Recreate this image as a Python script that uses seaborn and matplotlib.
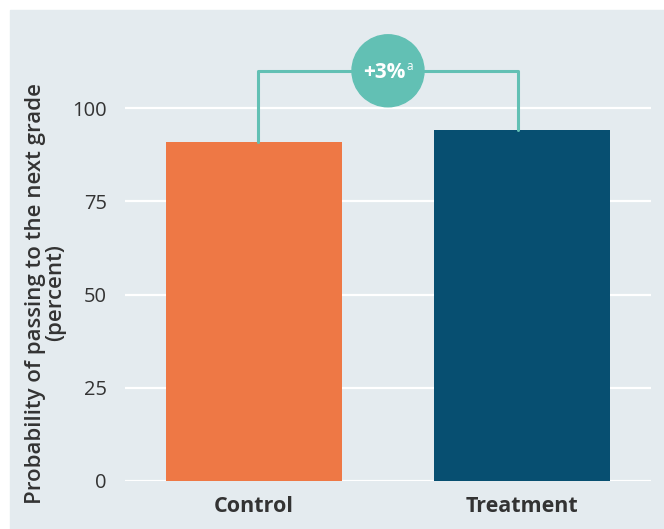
import matplotlib
matplotlib.use("Agg")
import matplotlib.pyplot as plt
from matplotlib.patches import Rectangle, Circle
import seaborn as sns

# Data
groups = ["Control", "Treatment"]
pass_rates = [91, 94]
bar_colors = ["#ee7845", "#074f71"]
y_ticks = [0, 25, 50, 75, 100]
diff_label = "+3%"
diff_note = "a"
y_label = "Probability of passing to the next grade\n(percent)"

W, H = 664, 529
bg = "#e4ebef"
teal = "#62c0b4"
text_col = "#333333"

sns.set_theme(style="white")
plt.rcParams["font.family"] = ["Open Sans", "DejaVu Sans"]

fig = plt.figure(figsize=(W / 100, H / 100), dpi=100)
fig.patches.append(Rectangle((10 / W, 0), 1 - 10 / W, 1 - 10 / H,
                             transform=fig.transFigure, color=bg, zorder=-10))

ax = fig.add_axes([125 / W, (H - 481) / H, (651 - 125) / W, (481 - 10) / H])
ax.set_facecolor("none")

sns.barplot(x=groups, y=pass_rates, hue=groups, palette=bar_colors,
            width=0.657, legend=False, ax=ax, saturation=1, zorder=3,
            linewidth=0, edgecolor="none")

ax.set_xlim(-0.481, 1.481)
ax.set_ylim(0, 126.3)
ax.set_yticks(y_ticks)
ax.set_yticklabels([str(t) for t in y_ticks], fontsize=14.5, color=text_col)
for t in y_ticks:
    ax.axhline(t, color="white", lw=1.6, zorder=1)
ax.tick_params(axis="y", length=0, pad=13)
ax.tick_params(axis="x", length=0, pad=11)
for lbl in ax.get_xticklabels():
    lbl.set_fontsize(15.5)
    lbl.set_fontweight("bold")
    lbl.set_color(text_col)
for s in ax.spines.values():
    s.set_visible(False)
ax.set_xlabel("")
ax.set_ylabel("")

# Bracket linking the two bars
top = 110
ax.plot([0.015, 0.015, 0.985, 0.985], [pass_rates[0], top, top, pass_rates[1]],
        color=teal, lw=2.2, solid_joinstyle="round", zorder=4, clip_on=False)

# Circle badge with the difference
cx_disp = ax.transData.transform((0.5, top))
circ = Circle((cx_disp[0], cx_disp[1]), 36, transform=None, color=teal, zorder=5)
ax.add_artist(circ)
ax.annotate(diff_label, xy=(0.5, top), xytext=(-3, -1), textcoords="offset points",
            ha="center", va="center", fontsize=15, fontweight="bold",
            color="white", zorder=6)
ax.annotate(diff_note, xy=(0.5, top), xytext=(13, 3), textcoords="offset points",
            ha="left", va="center", fontsize=8.5, color="white", zorder=6)

fig.text(46 / W, 1 - 293 / H, y_label, rotation=90, ha="center", va="center",
         multialignment="center", fontsize=16, fontweight="semibold",
         color=text_col, linespacing=0.95)

fig.savefig("out.png", dpi=100)
